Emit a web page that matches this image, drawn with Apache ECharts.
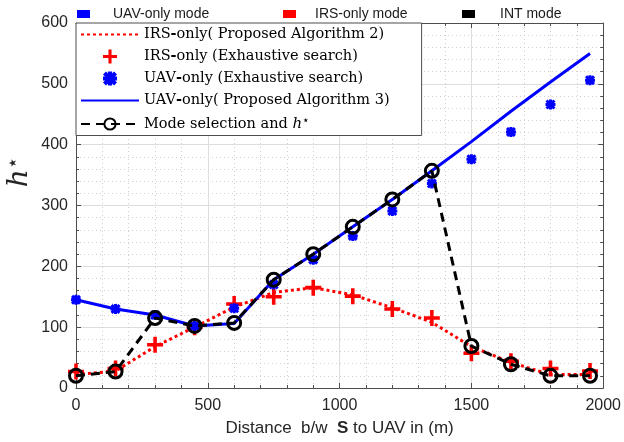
<!DOCTYPE html>
<html>
<head>
<meta charset="utf-8">
<script src="https://cdn.jsdelivr.net/npm/echarts@6/dist/echarts.min.js"></script>
<style>
  html, body { margin: 0; padding: 0; background: #fff; }
  #chart { width: 624px; height: 442px; }
</style>
</head>
<body>
<div id="chart"></div>
<script>
// Distance between source S and the UAV (m)
const distances = [0, 150, 300, 450, 600, 750, 900, 1050, 1200, 1350, 1500, 1650, 1800, 1950];

// IRS-only mode, proposed Algorithm 2
const irsProposed = [22, 28, 68, 100, 133, 157, 165, 153, 132, 108, 68, 42, 22, 22];
// IRS-only mode, exhaustive search
const irsExhaustive = [27, 32, 71, 100, 138, 150, 165, 151, 130, 115, 57, 44, 32, 28];
// UAV-only mode, exhaustive search
const uavExhaustive = [145, 130, 120, 102, 131, 170, 211, 250, 291, 336, 376, 421, 466, 506];
// UAV-only mode, proposed Algorithm 3
const uavProposed = [145, 130, 120, 102, 106, 178, 220, 265, 310, 357, 405, 455, 503, 550];
// Selected mode and resulting optimal altitude h*
const modeSelection = [20, 27, 115, 102, 107, 178, 220, 265, 310, 357, 69, 39, 20, 20];

const xTicks = { min: 0, max: 2000, interval: 500 };
const yTicks = { min: 0, max: 600, interval: 100 };

const pair = (xs, ys) => xs.map((x, i) => [x, ys[i]]);

const PLUS = 'path://M7,0 H11 V7 H18 V11 H11 V18 H7 V11 H0 V7 H7 Z';
const ASTERISK = 'path://M0,7 H20 V13 H0 Z M7,0 H13 V20 H7 Z ' +
  'M4.2,0 L20,15.8 L15.8,20 L0,4.2 Z M15.8,0 L20,4.2 L4.2,20 L0,15.8 Z';

const SANS = 'Liberation Sans, Arial, sans-serif';
const SERIF = 'DejaVu Serif, serif';
const AXIS_COLOR = '#4d4d4d';

function boxAxis(ticks, pos, main) {
  return {
    type: 'value',
    position: pos,
    min: ticks.min, max: ticks.max, interval: ticks.interval,
    axisLine: { show: true, onZero: false, lineStyle: { color: AXIS_COLOR, width: 1 } },
    axisTick: { show: true, inside: true, length: 5, lineStyle: { color: AXIS_COLOR } },
    minorTick: { show: true, splitNumber: 5, length: 3, lineStyle: { color: AXIS_COLOR } },
    axisLabel: main ? {
      show: true, color: '#262626', fontFamily: SANS, fontSize: 16, margin: 8,
      formatter: v => String(v)
    } : { show: false },
    splitLine: main ? { show: true, lineStyle: { color: '#dedede', width: 1 } } : { show: false },
    minorSplitLine: main ? { show: true, lineStyle: { color: '#cfcfcf', width: 1, type: [1, 3] } } : { show: false }
  };
}

const xMain = boxAxis(xTicks, 'bottom', true);
xMain.name = '{a|Distance  b/w  }{b|S}{a| to UAV in (m)}';
xMain.nameLocation = 'middle';
xMain.nameGap = 32;
xMain.nameTextStyle = {
  rich: {
    a: { fontFamily: SANS, fontSize: 17, color: '#262626' },
    b: { fontFamily: SANS, fontSize: 17, fontWeight: 'bold', color: '#262626' }
  }
};
xMain.axisLabel.margin = 10;

const yMain = boxAxis(yTicks, 'left', true);

const legendRich = {
  t: { fontFamily: SERIF, fontSize: 14.5, color: '#000' },
  h: { fontFamily: SERIF, fontSize: 14.5, fontWeight: 'bold', color: '#000' },
  i: { fontFamily: SERIF, fontSize: 15, fontStyle: 'italic', color: '#000' },
  s: { fontFamily: 'DejaVu Sans, sans-serif', fontSize: 12, color: '#000', verticalAlign: 'top', padding: [0, 0, 6, 0] }
};

function legendLabel(name) {
  if (name === 'Mode selection and h*') {
    return '{t|Mode selection and }{i|h}{s|⋆}';
  }
  return name.split('-').map(p => '{t|' + p + '}').join('{h|-}');
}

// line-only entries: hide the legend marker, keep the line sample
const lineOnly = name => ({ name, itemStyle: { opacity: 0 } });

const chart = echarts.init(document.getElementById('chart'), null, { renderer: 'canvas' });

chart.setOption({
  backgroundColor: '#fff',
  animation: false,
  grid: { left: 76, right: 20, top: 23, bottom: 53, containLabel: false },
  xAxis: [xMain, boxAxis(xTicks, 'top', false)],
  yAxis: [yMain, boxAxis(yTicks, 'right', false)],
  legend: [
    {
      data: ['UAV-only mode'], left: 72, top: 2, icon: 'rect', itemWidth: 13, itemHeight: 8, itemGap: 0,
      textStyle: { fontFamily: SANS, fontSize: 14, color: '#1a1a1a', padding: [0, 0, 0, 18] }
    },
    {
      data: ['IRS-only mode'], left: 278, top: 2, icon: 'rect', itemWidth: 13, itemHeight: 8, itemGap: 0,
      textStyle: { fontFamily: SANS, fontSize: 14, color: '#1a1a1a', padding: [0, 0, 0, 14] }
    },
    {
      data: ['INT mode'], left: 457, top: 2, icon: 'rect', itemWidth: 13, itemHeight: 8, itemGap: 0,
      textStyle: { fontFamily: SANS, fontSize: 14, color: '#1a1a1a', padding: [0, 0, 0, 20] }
    },
    {
      data: [lineOnly('IRS-only( Proposed Algorithm 2)'), 'IRS-only (Exhaustive search)', 'UAV-only (Exhaustive search)',
             lineOnly('UAV-only( Proposed Algorithm 3)'), 'Mode selection and h*'],
      orient: 'vertical', left: 76, top: 23,
      backgroundColor: '#fff', borderColor: '#4d4d4d', borderWidth: 1,
      padding: [4, 32, 4, 4], itemGap: 7, itemWidth: 58, itemHeight: 14,
      formatter: legendLabel,
      textStyle: { rich: legendRich, fontFamily: SERIF, fontSize: 14.5 }
    }
  ],
  graphic: [
    {
      type: 'text', x: 20, y: 172, rotation: Math.PI / 2,
      style: {
        text: '{i|h}{s|⋆}',
        rich: {
          i: { fontFamily: SERIF, fontStyle: 'italic', fontSize: 28, fill: '#262626' },
          s: { fontFamily: 'DejaVu Sans, sans-serif', fontSize: 20, fill: '#262626', verticalAlign: 'top', padding: [0, 0, 12, 0] }
        },
        align: 'center', verticalAlign: 'middle'
      }
    }
  ],
  series: [
    { name: 'UAV-only mode', type: 'bar', data: [], itemStyle: { color: '#0000ff' } },
    { name: 'IRS-only mode', type: 'bar', data: [], itemStyle: { color: '#ff0000' } },
    { name: 'INT mode', type: 'bar', data: [], itemStyle: { color: '#000000' } },
    {
      name: 'IRS-only( Proposed Algorithm 2)', type: 'line', data: pair(distances, irsProposed),
      symbol: 'none', showSymbol: false, z: 3,
      itemStyle: { color: '#ff0000' },
      lineStyle: { color: '#ff0000', width: 3, type: [3, 3] }
    },
    {
      name: 'IRS-only (Exhaustive search)', type: 'scatter', data: pair(distances, irsExhaustive),
      symbol: PLUS, symbolSize: 16, z: 4,
      itemStyle: { color: '#ff0000', opacity: 1 }
    },
    {
      name: 'UAV-only (Exhaustive search)', type: 'scatter', data: pair(distances, uavExhaustive),
      symbol: ASTERISK, symbolSize: 10, z: 4,
      itemStyle: { color: '#0000ff', opacity: 1 }
    },
    {
      name: 'UAV-only( Proposed Algorithm 3)', type: 'line', data: pair(distances, uavProposed),
      symbol: 'none', showSymbol: false, z: 5,
      itemStyle: { color: '#0000ff' },
      lineStyle: { color: '#0000ff', width: 3 }
    },
    {
      name: 'Mode selection and h*', type: 'line', data: pair(distances, modeSelection),
      symbol: 'circle', symbolSize: 13, showSymbol: true, z: 6,
      itemStyle: { color: 'rgba(0,0,0,0)', borderColor: '#000', borderWidth: 3 },
      lineStyle: { color: '#000', width: 3, type: [9, 6] }
    }
  ]
});
</script>
</body>
</html>
